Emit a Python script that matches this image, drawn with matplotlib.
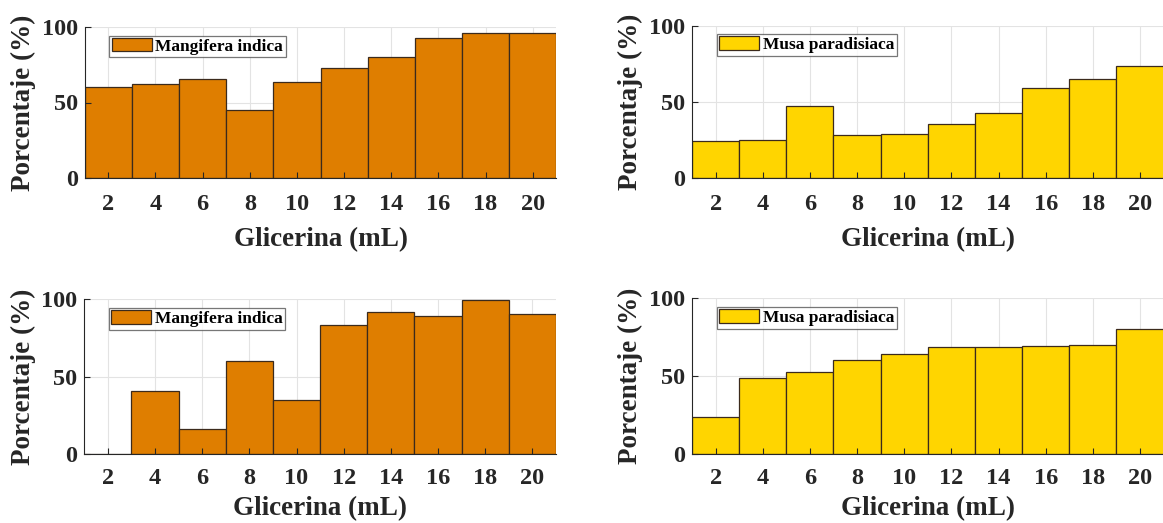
import numpy as np
import matplotlib
matplotlib.use("Agg")
import matplotlib.pyplot as plt

# data
glicerina = [2, 4, 6, 8, 10, 12, 14, 16, 18, 20]
mangifera_a = [60.1, 62.1, 65.9, 44.8, 63.4, 72.7, 80.3, 92.7, 96.5, 96.5]
musa_a = [24.3, 25.0, 47.1, 27.9, 28.5, 35.5, 42.3, 59.0, 64.7, 73.2]
mangifera_b = [0, 40.6, 16.3, 60.2, 34.6, 83.2, 91.6, 89.2, 99.8, 90.5]
musa_b = [23.5, 48.7, 52.4, 60.3, 64.1, 68.6, 68.6, 69.2, 69.9, 80.1]
yticks = [0, 50, 100]

orange = "#DF7E00"
yellow = "#FFD500"
txt = "#262626"

plt.rcParams['font.family'] = ['Liberation Serif', 'DejaVu Serif']
plt.rcParams['font.weight'] = 'bold'

fig = plt.figure(figsize=(11.63, 5.23), dpi=100)
W, H = 1163.0, 523.0

def make_ax(x0, ytop, ybot):
    return fig.add_axes([x0 / W, (H - ybot) / H, 471.6 / W, (ybot - ytop) / H])

# axes, values, colour, legend name, tick pad, xlabel pad
panels = [
    (make_ax(84.7, 27.3, 177.7), mangifera_a, orange, "Mangifera indica", 12, 8.5),
    (make_ax(692.0, 25.5, 177.5), musa_a, yellow, "Musa paradisiaca", 12, 8.5),
    (make_ax(84.3, 299.3, 454.0), mangifera_b, orange, "Mangifera indica", 10, 5),
    (make_ax(692.0, 298.3, 454.0), musa_b, yellow, "Musa paradisiaca", 10, 5),
]

for ax, vals, col, name, tpad, lpad in panels:
    ax.bar(glicerina, vals, width=2, color=col, edgecolor="#3b2a1c",
           linewidth=0.9, label=name, zorder=2)
    # grid behind the bars, ticks on top
    for xv in glicerina:
        ax.axvline(xv, color="#e3e3e3", lw=0.8, zorder=0.5)
    for yv in yticks[1:]:
        ax.axhline(yv, color="#e3e3e3", lw=0.8, zorder=0.5)
    ax.set_xlim(1, 21)
    ax.set_ylim(0, 100)
    ax.set_xticks(glicerina)
    ax.set_yticks(yticks)
    ax.tick_params(direction="in", length=4, width=0.8, color=txt,
                   labelsize=17.5, labelcolor=txt)
    ax.tick_params(axis="x", pad=tpad)
    ax.tick_params(axis="y", pad=5)
    for lab in ax.get_xticklabels() + ax.get_yticklabels():
        lab.set_fontweight("bold")
    ax.spines["top"].set_visible(False)
    ax.spines["right"].set_visible(False)
    ax.spines["left"].set_color(txt)
    ax.spines["bottom"].set_color(txt)
    ax.spines["left"].set_linewidth(0.8)
    ax.spines["bottom"].set_linewidth(0.8)
    ax.set_axisbelow(False)
    ax.set_xlabel("Glicerina (mL)", fontsize=19.5, fontweight="bold", color=txt, labelpad=lpad)
    ax.set_ylabel("Porcentaje (%)", fontsize=19.5, fontweight="bold", color=txt, labelpad=4)
    leg = ax.legend(loc="upper left", bbox_to_anchor=(0.052, 0.945), fontsize=12.5,
                    frameon=True, fancybox=False, edgecolor="#555555",
                    handlelength=2.3, handleheight=0.8, handletextpad=0.2,
                    borderpad=0.15, borderaxespad=0)
    leg.get_frame().set_linewidth(0.9)
    for t in leg.get_texts():
        t.set_fontweight("bold")
        t.set_color("black")

fig.savefig("out.png", dpi=100)
